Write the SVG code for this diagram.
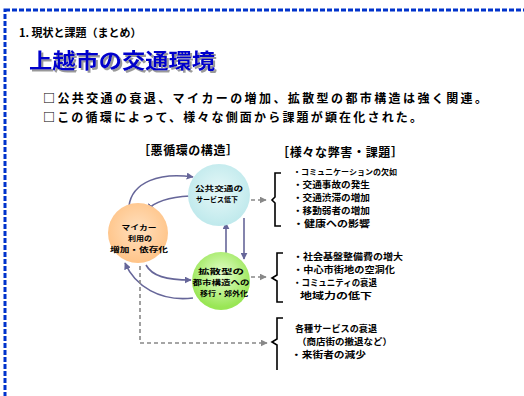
<svg xmlns="http://www.w3.org/2000/svg" width="524" height="396" viewBox="0 0 524 396">
<style>
text{font-family:"Noto Sans CJK JP","Noto Sans",sans-serif;font-weight:bold;fill:#000}
.sub{font-size:11px}
.bul{font-size:12px}
.hd{font-size:12px}
.it{font-size:9px}
.nd{font-size:7px;text-anchor:middle}
.arc{fill:none;stroke:#666699;stroke-width:1.6}
.dash{fill:none;stroke:#888;stroke-width:1.6;stroke-dasharray:4 3}
.br{fill:none;stroke:#000;stroke-width:1.6}
</style>
<defs>
<marker id="ah" viewBox="0 0 10 10" refX="9" refY="5" markerWidth="7" markerHeight="7" orient="auto" markerUnits="userSpaceOnUse"><path d="M0,0L10,5L0,10z" fill="#666699"/></marker>
<marker id="ag" viewBox="0 0 10 10" refX="9" refY="5" markerWidth="7" markerHeight="7" orient="auto" markerUnits="userSpaceOnUse"><path d="M0,0L10,5L0,10z" fill="#888"/></marker>
<radialGradient id="gb" cx="0.5" cy="0.45" r="0.55"><stop offset="0" stop-color="#e6f8f8"/><stop offset="1" stop-color="#bfe9ec"/></radialGradient>
<radialGradient id="go" cx="0.5" cy="0.45" r="0.55"><stop offset="0" stop-color="#ffe0bf"/><stop offset="1" stop-color="#ffc488"/></radialGradient>
<radialGradient id="gg" cx="0.5" cy="0.4" r="0.55"><stop offset="0" stop-color="#e6ffd0"/><stop offset="1" stop-color="#99e655"/></radialGradient>
<filter id="sh" x="-5%" y="-20%" width="115%" height="150%"><feDropShadow dx="2" dy="2" stdDeviation="0.3" flood-color="#999"/></filter>
</defs>
<rect x="0" y="0" width="524" height="396" fill="#fff"/>
<rect x="5" y="10" width="540" height="420" fill="none" stroke="#0033cc" stroke-width="3" stroke-dasharray="5 2"/>
<text class="sub" x="19" y="37">1. 現状と課題（まとめ）</text>
<text x="29" y="68" style="font-size:21px;fill:#0000cc" filter="url(#sh)" textLength="186" lengthAdjust="spacingAndGlyphs">上越市の交通環境</text>
<text class="bul" x="43" y="103" textLength="444" lengthAdjust="spacing">□公共交通の衰退、マイカーの増加、拡散型の都市構造は強く関連。</text>
<text class="bul" x="43" y="122" textLength="379" lengthAdjust="spacing">□この循環によって、様々な側面から課題が顕在化された。</text>
<text class="hd" x="138" y="155" textLength="100" lengthAdjust="spacing">［悪循環の構造］</text>
<text class="hd" x="277" y="157" textLength="126" lengthAdjust="spacing">［様々な弊害・課題］</text>
<g id="connectors">
<path class="arc" d="M129,206 C132,182 160,172 193,177" marker-end="url(#ah)"/>
<path class="arc" d="M190,196 C172,197 156,200 147,210" marker-end="url(#ah)"/>
<path class="arc" d="M226,253 L226,223" marker-end="url(#ah)"/>
<path class="arc" d="M244,218 L244,259" marker-end="url(#ah)"/>
<path class="arc" d="M146,265 C152,276 166,280 191,280" marker-end="url(#ah)"/>
<path class="arc" d="M193,298 C160,302 135,286 125,263" marker-end="url(#ah)"/>
<path class="dash" d="M140,266 L140,343 L267,343" marker-end="url(#ag)"/>
<path class="dash" d="M251,200 L266,200" marker-end="url(#ag)"/>
<path class="dash" d="M251,277 L266,277" marker-end="url(#ag)"/>
</g>
<g id="node-bus">
<circle cx="219" cy="195" r="31" fill="url(#gb)"/>
<text class="nd" x="219" y="191" textLength="48" lengthAdjust="spacingAndGlyphs">公共交通の</text>
<text class="nd" x="217" y="202" textLength="42" lengthAdjust="spacingAndGlyphs">サービス低下</text>
</g>
<g id="node-car">
<circle cx="138" cy="233" r="30" fill="url(#go)"/>
<text class="nd" x="139" y="230" textLength="35" lengthAdjust="spacingAndGlyphs">マイカー</text>
<text class="nd" x="140" y="241" textLength="24" lengthAdjust="spacingAndGlyphs">利用の</text>
<text class="nd" x="139" y="252" textLength="58" lengthAdjust="spacingAndGlyphs">増加・依存化</text>
</g>
<g id="node-city">
<circle cx="221" cy="281" r="29" fill="url(#gg)"/>
<text class="nd" x="221" y="274" textLength="46" lengthAdjust="spacingAndGlyphs">拡散型の</text>
<text class="nd" x="221" y="285" textLength="57" lengthAdjust="spacingAndGlyphs">都市構造への</text>
<text class="nd" x="224" y="296" textLength="48" lengthAdjust="spacingAndGlyphs">移行・郊外化</text>
</g>
<g id="list1">
<path class="br" d="M281,173 L275,173 L275,197 L272,200 L275,203 L275,226 L281,226"/>
<text x="293" y="175" style="font-size:7.5px" textLength="104" lengthAdjust="spacingAndGlyphs">・コミュニケーションの欠如</text>
<text class="it" x="293" y="188" textLength="77" lengthAdjust="spacingAndGlyphs">・交通事故の発生</text>
<text class="it" x="293" y="201" textLength="77" lengthAdjust="spacingAndGlyphs">・交通渋滞の増加</text>
<text class="it" x="293" y="214" textLength="77" lengthAdjust="spacingAndGlyphs">・移動弱者の増加</text>
<text class="it" x="293" y="227" textLength="77" lengthAdjust="spacingAndGlyphs">・健康への影響</text>
</g>
<g id="list2">
<path class="br" d="M283,253 L277,253 L277,275 L272,278 L277,281 L277,302 L283,302"/>
<text class="it" x="293" y="260" textLength="110" lengthAdjust="spacingAndGlyphs">・社会基盤整備費の増大</text>
<text class="it" x="293" y="273" textLength="102" lengthAdjust="spacingAndGlyphs">・中心市街地の空洞化</text>
<text class="it" x="293" y="286" textLength="84" lengthAdjust="spacingAndGlyphs">・コミュニティの衰退</text>
<text class="it" x="300" y="299" textLength="72" lengthAdjust="spacingAndGlyphs">地域力の低下</text>
</g>
<g id="list3">
<path class="br" d="M283,318 L277,318 L277,339 L272,342 L277,345 L277,370"/>
<text class="it" x="295" y="332" textLength="82" lengthAdjust="spacingAndGlyphs">各種サービスの衰退</text>
<text class="it" x="297" y="345" textLength="95" lengthAdjust="spacingAndGlyphs">（商店街の撤退など）</text>
<text class="it" x="291" y="358" textLength="75" lengthAdjust="spacingAndGlyphs">・来街者の減少</text>
</g>
</svg>
